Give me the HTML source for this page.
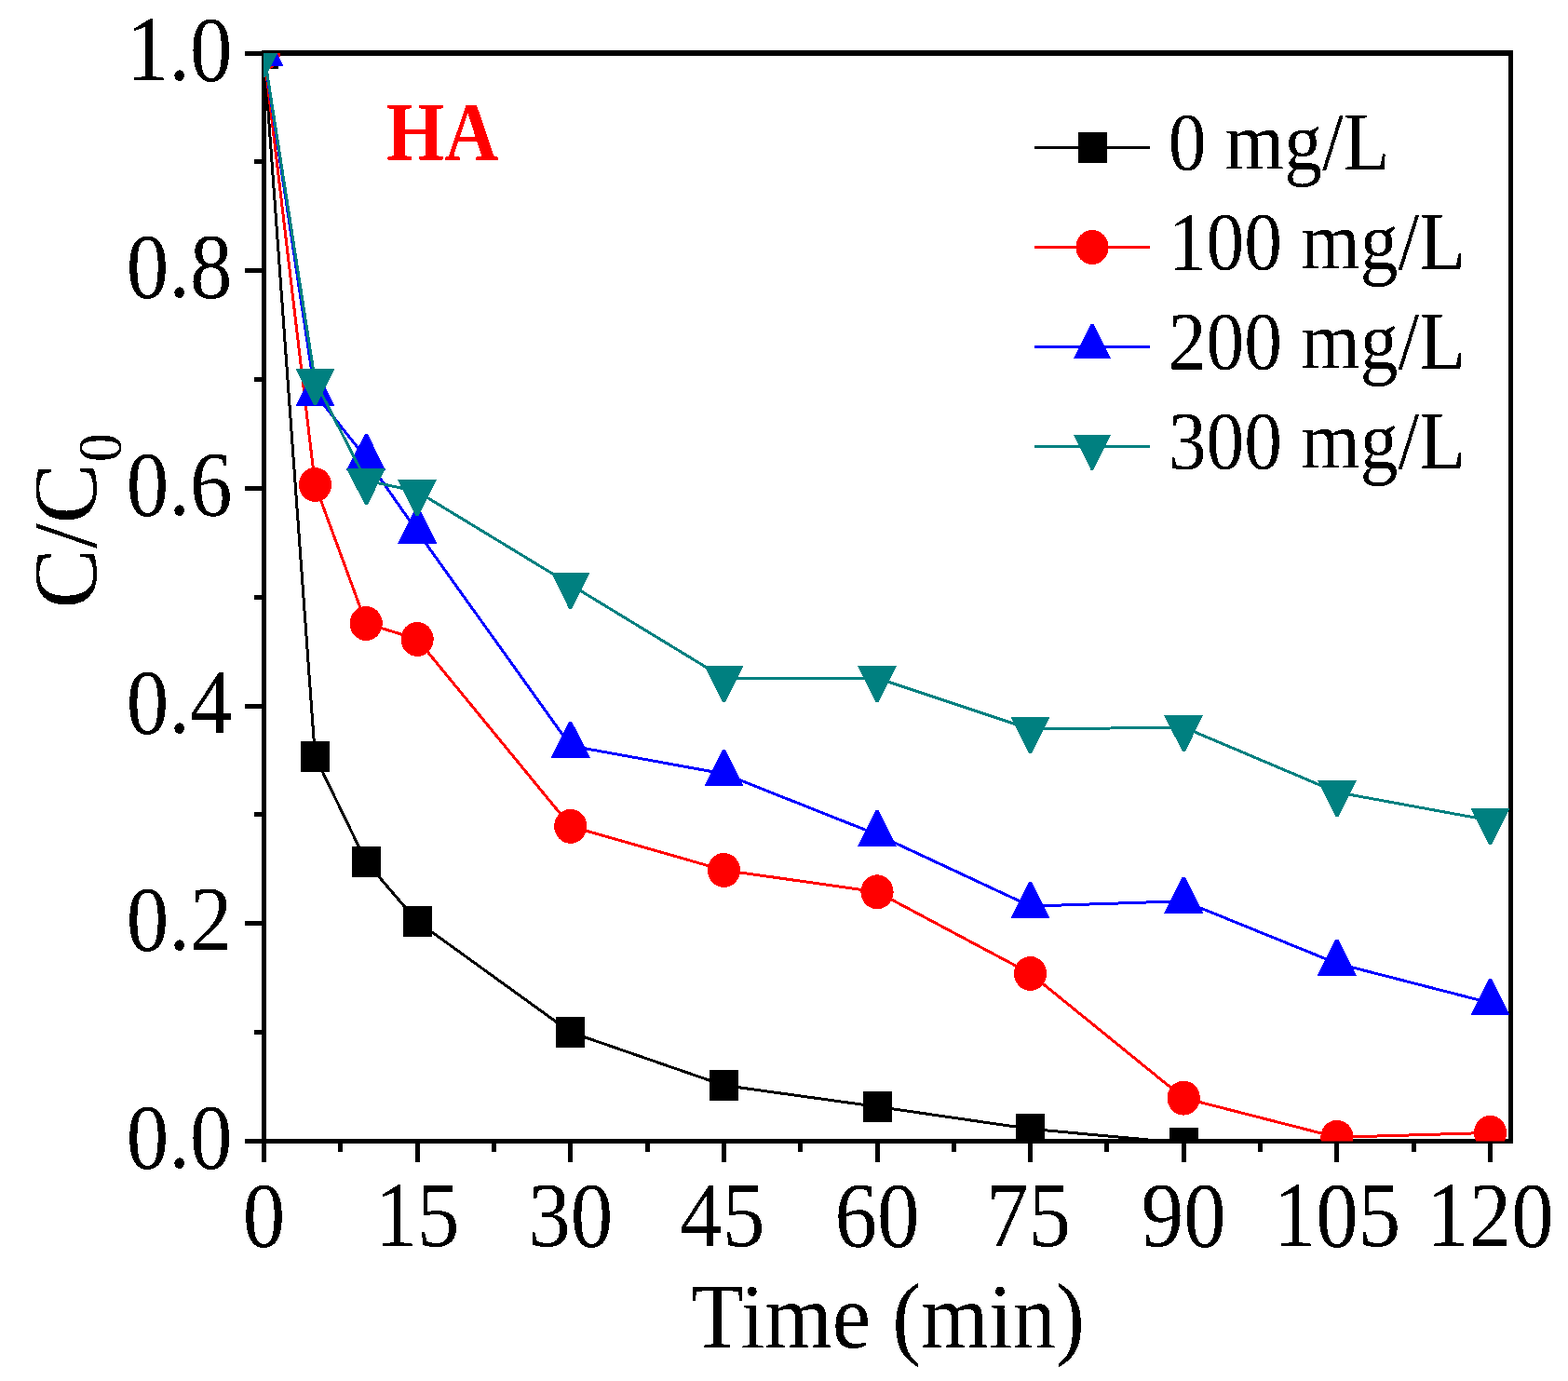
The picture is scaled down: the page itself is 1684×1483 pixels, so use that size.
<!DOCTYPE html>
<html><head><meta charset="utf-8"><title>C/C0 vs Time (HA)</title>
<style>html,body{margin:0;padding:0;background:#fff;overflow:hidden;}svg{display:block;}</style>
</head><body><svg width="1684" height="1483" viewBox="0 0 1684 1483"><defs><clipPath id="c"><rect x="283" y="57" width="1339.5" height="1168.5"/></clipPath><filter id="th" x="0" y="0" width="1684" height="1483" filterUnits="userSpaceOnUse" color-interpolation-filters="sRGB"><feComponentTransfer><feFuncA type="discrete" tableValues="0 1"/></feComponentTransfer></filter></defs><g fill="#000"><rect x="281" y="54" width="1344" height="6"/><rect x="281" y="1223" width="1344" height="5"/><rect x="281" y="54" width="5" height="1174"/><rect x="1620" y="54" width="5" height="1174"/></g><g fill="#000" shape-rendering="crispEdges"><rect x="263" y="1223.0" width="19" height="5"/><rect x="263" y="989.3" width="19" height="5"/><rect x="263" y="755.6" width="19" height="5"/><rect x="263" y="521.9" width="19" height="5"/><rect x="263" y="288.2" width="19" height="5"/><rect x="263" y="54.5" width="19" height="5"/><rect x="273" y="1106.2" width="9" height="5"/><rect x="273" y="872.4" width="9" height="5"/><rect x="273" y="638.8" width="9" height="5"/><rect x="273" y="405.0" width="9" height="5"/><rect x="273" y="171.3" width="9" height="5"/><rect x="281.0" y="1227" width="5" height="21"/><rect x="445.6" y="1227" width="5" height="21"/><rect x="610.2" y="1227" width="5" height="21"/><rect x="774.9" y="1227" width="5" height="21"/><rect x="939.5" y="1227" width="5" height="21"/><rect x="1104.1" y="1227" width="5" height="21"/><rect x="1268.8" y="1227" width="5" height="21"/><rect x="1433.4" y="1227" width="5" height="21"/><rect x="1598.0" y="1227" width="5" height="21"/><rect x="363.3" y="1227" width="5" height="10"/><rect x="527.9" y="1227" width="5" height="10"/><rect x="692.6" y="1227" width="5" height="10"/><rect x="857.2" y="1227" width="5" height="10"/><rect x="1021.8" y="1227" width="5" height="10"/><rect x="1186.4" y="1227" width="5" height="10"/><rect x="1351.1" y="1227" width="5" height="10"/><rect x="1515.7" y="1227" width="5" height="10"/></g><g clip-path="url(#c)" shape-rendering="crispEdges"><polyline points="283.5,57.0 338.4,812.4 393.2,925.3 448.1,989.5 612.8,1108.5 777.4,1165.5 942.0,1188.4 1106.6,1212.3 1271.2,1227.5" fill="none" stroke="#000000" stroke-width="3" stroke-linejoin="round"/><rect x="268.0" y="40.5" width="31" height="33" fill="#000000"/><rect x="322.9" y="795.9" width="31" height="33" fill="#000000"/><rect x="377.8" y="908.8" width="31" height="33" fill="#000000"/><rect x="432.6" y="973.0" width="31" height="33" fill="#000000"/><rect x="597.2" y="1092.0" width="31" height="33" fill="#000000"/><rect x="761.9" y="1149.0" width="31" height="33" fill="#000000"/><rect x="926.5" y="1171.9" width="31" height="33" fill="#000000"/><rect x="1091.1" y="1195.8" width="31" height="33" fill="#000000"/><rect x="1255.8" y="1211.0" width="31" height="33" fill="#000000"/><polyline points="283.5,57.0 338.4,520.5 393.2,669.5 448.1,686.4 612.8,887.3 777.4,934.5 942.0,957.8 1106.6,1045.5 1271.2,1179.1 1435.9,1221.3 1600.5,1216.4" fill="none" stroke="#FF0000" stroke-width="3" stroke-linejoin="round"/><ellipse cx="283.5" cy="57.0" rx="17.6" ry="18.5" fill="#FF0000"/><ellipse cx="338.4" cy="520.5" rx="17.6" ry="18.5" fill="#FF0000"/><ellipse cx="393.2" cy="669.5" rx="17.6" ry="18.5" fill="#FF0000"/><ellipse cx="448.1" cy="686.4" rx="17.6" ry="18.5" fill="#FF0000"/><ellipse cx="612.8" cy="887.3" rx="17.6" ry="18.5" fill="#FF0000"/><ellipse cx="777.4" cy="934.5" rx="17.6" ry="18.5" fill="#FF0000"/><ellipse cx="942.0" cy="957.8" rx="17.6" ry="18.5" fill="#FF0000"/><ellipse cx="1106.6" cy="1045.5" rx="17.6" ry="18.5" fill="#FF0000"/><ellipse cx="1271.2" cy="1179.1" rx="17.6" ry="18.5" fill="#FF0000"/><ellipse cx="1435.9" cy="1221.3" rx="17.6" ry="18.5" fill="#FF0000"/><ellipse cx="1600.5" cy="1216.4" rx="17.6" ry="18.5" fill="#FF0000"/><polyline points="283.5,58.0 338.4,423.0 393.2,492.0 448.1,570.7 612.8,800.9 777.4,830.9 942.0,896.2 1106.6,973.1 1271.2,967.7 1435.9,1034.6 1600.5,1077.0" fill="none" stroke="#0000FF" stroke-width="3" stroke-linejoin="round"/><polygon points="282.0,32.0 285.0,32.0 304.5,71.0 262.5,71.0" fill="#0000FF"/><polygon points="336.9,397.0 339.9,397.0 359.4,436.0 317.4,436.0" fill="#0000FF"/><polygon points="391.8,466.0 394.8,466.0 414.2,505.0 372.2,505.0" fill="#0000FF"/><polygon points="446.6,544.7 449.6,544.7 469.1,583.7 427.1,583.7" fill="#0000FF"/><polygon points="611.2,774.9 614.2,774.9 633.8,813.9 591.8,813.9" fill="#0000FF"/><polygon points="775.9,804.9 778.9,804.9 798.4,843.9 756.4,843.9" fill="#0000FF"/><polygon points="940.5,870.2 943.5,870.2 963.0,909.2 921.0,909.2" fill="#0000FF"/><polygon points="1105.1,947.1 1108.1,947.1 1127.6,986.1 1085.6,986.1" fill="#0000FF"/><polygon points="1269.8,941.7 1272.8,941.7 1292.2,980.7 1250.2,980.7" fill="#0000FF"/><polygon points="1434.4,1008.6 1437.4,1008.6 1456.9,1047.6 1414.9,1047.6" fill="#0000FF"/><polygon points="1599.0,1051.0 1602.0,1051.0 1621.5,1090.0 1579.5,1090.0" fill="#0000FF"/><polyline points="283.5,57.0 338.4,409.2 393.2,516.0 448.1,527.8 612.8,627.9 777.4,728.1 942.0,728.1 1106.6,783.1 1271.2,781.0 1435.9,850.8 1600.5,881.0" fill="none" stroke="#008080" stroke-width="3" stroke-linejoin="round"/><polygon points="262.5,44.0 304.5,44.0 285.0,83.0 282.0,83.0" fill="#008080"/><polygon points="317.4,396.2 359.4,396.2 339.9,435.2 336.9,435.2" fill="#008080"/><polygon points="372.2,503.0 414.2,503.0 394.8,542.0 391.8,542.0" fill="#008080"/><polygon points="427.1,514.8 469.1,514.8 449.6,553.8 446.6,553.8" fill="#008080"/><polygon points="591.8,614.9 633.8,614.9 614.2,653.9 611.2,653.9" fill="#008080"/><polygon points="756.4,715.1 798.4,715.1 778.9,754.1 775.9,754.1" fill="#008080"/><polygon points="921.0,715.1 963.0,715.1 943.5,754.1 940.5,754.1" fill="#008080"/><polygon points="1085.6,770.1 1127.6,770.1 1108.1,809.1 1105.1,809.1" fill="#008080"/><polygon points="1250.2,768.0 1292.2,768.0 1272.8,807.0 1269.8,807.0" fill="#008080"/><polygon points="1414.9,837.8 1456.9,837.8 1437.4,876.8 1434.4,876.8" fill="#008080"/><polygon points="1579.5,868.0 1621.5,868.0 1602.0,907.0 1599.0,907.0" fill="#008080"/></g><g shape-rendering="crispEdges"><line x1="1111" y1="158.5" x2="1235" y2="158.5" stroke="#000000" stroke-width="3"/><rect x="1157.5" y="142.0" width="31" height="33" fill="#000000"/><line x1="1111" y1="265.5" x2="1235" y2="265.5" stroke="#FF0000" stroke-width="3"/><ellipse cx="1173.0" cy="265.5" rx="17.6" ry="18.5" fill="#FF0000"/><line x1="1111" y1="372.5" x2="1235" y2="372.5" stroke="#0000FF" stroke-width="3"/><polygon points="1171.5,347.5 1174.5,347.5 1193.0,385.0 1153.0,385.0" fill="#0000FF"/><line x1="1111" y1="479.5" x2="1235" y2="479.5" stroke="#008080" stroke-width="3"/><polygon points="1153.0,467.0 1193.0,467.0 1174.5,504.5 1171.5,504.5" fill="#008080"/></g><g font-family="Liberation Serif, 'Times New Roman', serif" font-size="99" fill="#000" filter="url(#th)"><text transform="translate(249.5,1254.0) scale(0.92,1)" text-anchor="end">0.0</text><text transform="translate(249.5,1020.3) scale(0.92,1)" text-anchor="end">0.2</text><text transform="translate(249.5,786.6) scale(0.92,1)" text-anchor="end">0.4</text><text transform="translate(249.5,552.9) scale(0.92,1)" text-anchor="end">0.6</text><text transform="translate(249.5,319.2) scale(0.92,1)" text-anchor="end">0.8</text><text transform="translate(249.5,85.5) scale(0.92,1)" text-anchor="end">1.0</text><text transform="translate(283.5,1338) scale(0.92,1)" text-anchor="middle">0</text><text transform="translate(448.1,1338) scale(0.92,1)" text-anchor="middle">15</text><text transform="translate(612.8,1338) scale(0.92,1)" text-anchor="middle">30</text><text transform="translate(775.9,1338) scale(0.92,1)" text-anchor="middle">45</text><text transform="translate(942.0,1338) scale(0.92,1)" text-anchor="middle">60</text><text transform="translate(1104.6,1338) scale(0.92,1)" text-anchor="middle">75</text><text transform="translate(1271.2,1338) scale(0.92,1)" text-anchor="middle">90</text><text transform="translate(1435.9,1338) scale(0.92,1)" text-anchor="middle">105</text><text transform="translate(1600.5,1338) scale(0.92,1)" text-anchor="middle">120</text><text transform="translate(953.5,1447) scale(0.94,1)" text-anchor="middle">Time (min)</text><text transform="translate(103,653.5) rotate(-90)" font-size="96.6">C/C</text><text transform="translate(130,495.9) rotate(-90) scale(0.9,1)" font-size="68">0</text><text transform="translate(415,171.3) scale(0.905,1)" font-weight="bold" font-size="88.5" fill="#FF0000">HA</text><text transform="translate(1254.7,181.9) scale(0.916,1)" font-size="89">0 mg/L</text><text transform="translate(1254.7,288.9) scale(0.916,1)" font-size="89">100 mg/L</text><text transform="translate(1254.7,395.9) scale(0.916,1)" font-size="89">200 mg/L</text><text transform="translate(1254.7,502.9) scale(0.916,1)" font-size="89">300 mg/L</text></g></svg></body></html>
